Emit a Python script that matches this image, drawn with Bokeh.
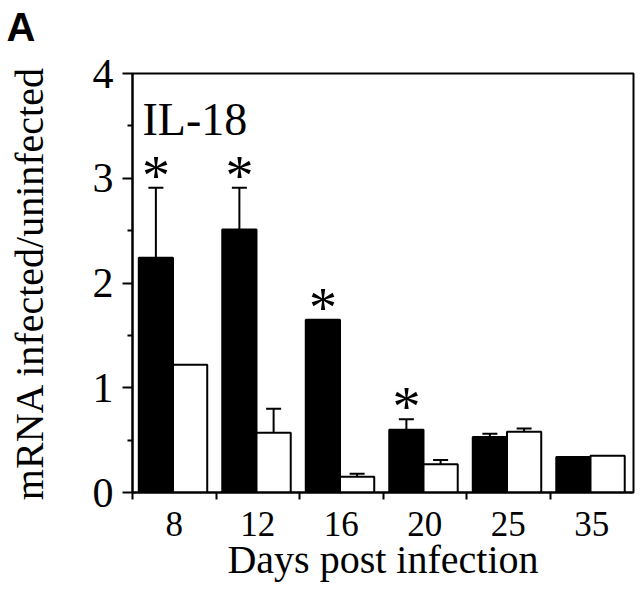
from math import pi
from bokeh.plotting import figure
from bokeh.models import FixedTicker, Whisker, TeeHead, ColumnDataSource, Label, Title
from bokeh.core.properties import value
from bokeh.embed import file_html
from bokeh.resources import INLINE

days = ["8", "12", "16", "20", "25", "35"]
infected = [2.24, 2.51, 1.65, 0.60, 0.53, 0.34]
infected_err = [0.67, 0.40, 0.0, 0.10, 0.03, 0.0]
uninfected = [1.22, 0.57, 0.15, 0.27, 0.58, 0.35]
uninfected_err = [0.0, 0.23, 0.03, 0.04, 0.03, 0.0]
significant = [True, True, True, True, False, False]

SERIF = "Liberation Serif"
BW = 0.41
xb = [i + 0.28 for i in range(len(days))]
xw = [i + 0.69 for i in range(len(days))]

p = figure(width=640, height=606, x_range=(0, 6), y_range=(0, 4),
           output_backend="svg", toolbar_location=None,
           min_border_left=132, min_border_right=7,
           min_border_top=73, min_border_bottom=114)
p.grid.visible = False
p.outline_line_color = "black"
p.outline_line_width = 2

# panel letter as the plot title, lifted by an invisible spacer title
p.add_layout(Title(text=" ", text_font_size="10px", standoff=10), "above")
p.title.text = "A"
p.title.text_font = "Liberation Sans"
p.title.text_font_style = "bold"
p.title.text_font_size = "40px"
p.title.text_color = "black"
p.title.align = "left"
p.title.vertical_align = "top"
p.title.offset = -126
p.title.standoff = 0

p.vbar(x=xb, top=infected, width=BW, fill_color="black", line_color="black", line_width=2)
p.vbar(x=xw, top=uninfected, width=BW, fill_color="white", line_color="black", line_width=2)

def add_err(xs, tops, errs):
    sel = [i for i, e in enumerate(errs) if e > 0]
    src = ColumnDataSource(dict(
        x=[xs[i] for i in sel],
        lo=[tops[i] for i in sel],
        hi=[tops[i] + errs[i] for i in sel]))
    w = Whisker(source=src, base="x", lower="lo", upper="hi", dimension="height",
                line_color="black", line_width=2,
                upper_head=TeeHead(size=15, line_color="black", line_width=2),
                lower_head=None)
    p.add_layout(w)

add_err(xb, infected, infected_err)
add_err(xw, uninfected, uninfected_err)

sx = [xb[i] for i, s in enumerate(significant) if s]
sy = [infected[i] + infected_err[i] for i, s in enumerate(significant) if s]
p.text(x=sx, y=sy, text=["*"] * len(sx), text_font=value(SERIF),
       text_font_size="56px", text_align="center", text_baseline="alphabetic",
       y_offset=-12, text_color="black")

p.add_layout(Label(x=0.12, y=3.56, text="IL-18", text_font=SERIF,
                   text_font_size="46px", text_baseline="alphabetic", text_color="black"))

xa = p.xaxis[0]
xa.ticker = FixedTicker(ticks=[i + 0.5 for i in range(len(days))],
                        minor_ticks=list(range(len(days))))
xa.major_label_overrides = {i + 0.5: d for i, d in enumerate(days)}
xa.major_tick_line_color = None
xa.major_tick_out = 7
xa.major_tick_in = 0
xa.minor_tick_out = 7
xa.minor_tick_in = 0
xa.minor_tick_line_width = 2
xa.minor_tick_line_color = "black"
xa.axis_line_width = 2
xa.major_label_text_font = SERIF
xa.major_label_text_font_size = "35px"
xa.major_label_text_color = "black"
xa.major_label_standoff = 12
xa.axis_label = "Days post infection"
xa.axis_label_text_font = SERIF
xa.axis_label_text_font_size = "40px"
xa.axis_label_text_font_style = "normal"
xa.axis_label_text_color = "black"
xa.axis_label_standoff = -2

ya = p.yaxis[0]
ya.ticker = FixedTicker(ticks=[0, 1, 2, 3, 4], minor_ticks=[0.5, 1.5, 2.5, 3.5])
ya.major_tick_out = 10
ya.major_tick_in = 0
ya.minor_tick_out = 5
ya.minor_tick_in = 0
ya.major_tick_line_width = 2
ya.minor_tick_line_width = 2
ya.axis_line_width = 2
ya.major_label_text_font = SERIF
ya.major_label_text_font_size = "42px"
ya.major_label_text_color = "black"
ya.major_label_standoff = 9
ya.axis_label = "mRNA infected/uninfected"
ya.axis_label_text_font = SERIF
ya.axis_label_text_font_size = "40px"
ya.axis_label_text_font_style = "normal"
ya.axis_label_text_color = "black"
ya.axis_label_standoff = 38

open("out.html", "w").write(file_html(p, INLINE))
